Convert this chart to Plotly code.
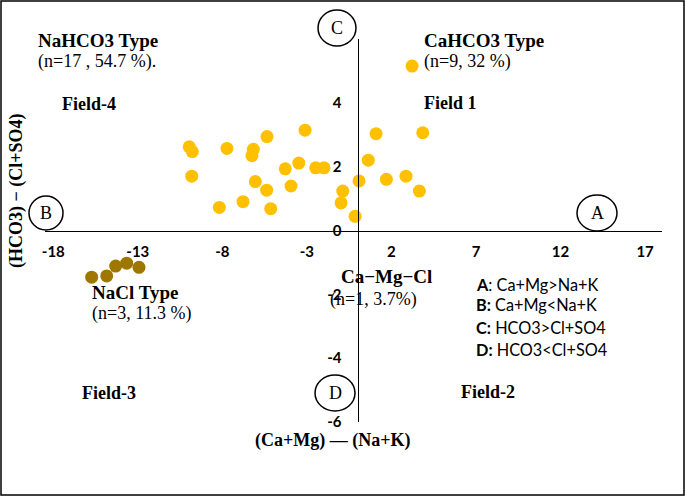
import plotly.graph_objects as go

# ---------------- data ----------------
yellow_x = [-9.96, -9.78, -9.81, -7.73, -6.17, -6.25, -5.36, -3.11, -8.18, -6.78,
            -6.05, -5.38, -5.14, -4.28, -3.48, -3.94, -2.48, -1.99, -0.88, -0.98,
            -0.15, 0.08, 0.63, 1.09, 3.85, 1.70, 2.86, 3.65, 3.22]
yellow_y = [2.63, 2.48, 1.71, 2.58, 2.55, 2.35, 2.95, 3.15, 0.73, 0.91,
            1.54, 1.27, 0.69, 1.94, 2.12, 1.40, 1.97, 1.97, 1.24, 0.87,
            0.45, 1.56, 2.21, 3.04, 3.07, 1.61, 1.71, 1.24, 5.16]
brown_x = [-15.73, -14.84, -14.31, -13.66, -12.93]
brown_y = [-1.46, -1.42, -1.11, -1.02, -1.15]

x_ticks = [-18, -13, -8, -3, 2, 7, 12, 17]
y_ticks = [-6, -4, -2, 0, 2, 4]
x_range = [-18.49, 18.0]
y_range = [-6.0, 6.01]

W, H = 685, 496
L, R, T, B = 45, 662, 39, 422   # plot area in pixels


def px(x, y):
    """figure pixel -> paper coordinates"""
    return (x - L) / (R - L), (B - y) / (B - T)


fig = go.Figure()
fig.add_trace(go.Scatter(x=yellow_x, y=yellow_y, mode="markers",
                         marker=dict(size=13, color="#FFC000", line=dict(width=0)),
                         showlegend=False))
fig.add_trace(go.Scatter(x=brown_x, y=brown_y, mode="markers",
                         marker=dict(size=13, color="#9E7700", line=dict(width=0)),
                         showlegend=False))

serif = "Liberation Serif"
sans = "Lato"
ann = []


def text(x, y, s, size=18, bold=False, anchor="left", family=serif, angle=0):
    ax, ay = px(x, y)
    ann.append(dict(x=ax, y=ay, xref="paper", yref="paper", text=s, showarrow=False,
                    xanchor=anchor, yanchor="middle", textangle=angle,
                    font=dict(family=family, size=size, color="black",
                              weight="bold" if bold else "normal")))


text(36, 40, "NaHCO3 Type", 19, True)
text(36, 62, "(n=17 , 54.7 %).", 18)
text(60, 104, "Field-4", 18, True)
text(422, 40, "CaHCO3 Type", 19, True)
text(422, 62, "(n=9, 32 %)", 18)
text(422, 103, "Field 1", 18, True)
text(90, 292, "NaCl Type", 19, True)
text(90, 313, "(n=3, 11.3 %)", 18)
text(80, 393, "Field-3", 18, True)
text(459, 392, "Field-2", 18, True)
text(339, 276, "Ca\u2212Mg\u2212Cl", 19, True)
text(419, 299, "(n=1, 3.7%)", 18, anchor="right")
text(474, 284, "<b>A</b>: Ca+Mg>Na+K", 16.3, family=sans)
text(474, 305, "<b>B:</b> Ca+Mg<Na+K", 16.3, family=sans)
text(474, 327, "<b>C:</b> HCO3>Cl+SO4", 16.3, family=sans)
text(474, 349, "<b>D:</b> HCO3<Cl+SO4", 16.3, family=sans)
text(332, 441, "(Ca+Mg) \u2014 (Na+K)", 18, True, anchor="center")
text(16, 191, "(HCO3) \u2212 (Cl+SO4)", 18, True, anchor="center", angle=-90)

circles = [("C", 337, 28, 19, 18), ("B", 46, 213, 17, 17),
           ("A", 597, 213, 20, 18), ("D", 335, 393, 20, 18)]
shapes = []
for lab, cx, cy, rx, ry in circles:
    x0, y0 = px(cx - rx, cy + ry)
    x1, y1 = px(cx + rx, cy - ry)
    shapes.append(dict(type="circle", xref="paper", yref="paper", x0=x0, y0=y0,
                       x1=x1, y1=y1, line=dict(color="black", width=1.5),
                       fillcolor="white", layer="above"))
    text(cx, cy, lab, 18, anchor="center")

# outer frame
fx0, fy0 = px(1, 495)
fx1, fy1 = px(684, 1)
shapes.append(dict(type="rect", xref="paper", yref="paper", x0=fx0, y0=fy0, x1=fx1, y1=fy1,
                   line=dict(color="black", width=1.5)))

xpos = (0 - y_range[0]) / (y_range[1] - y_range[0])
ypos = (0 - x_range[0]) / (x_range[1] - x_range[0])

tickfont = dict(family=sans, size=15, color="black", weight="bold")
fig.update_layout(
    width=W, height=H,
    margin=dict(l=L, r=W - R, t=T, b=H - B, pad=0),
    plot_bgcolor="white", paper_bgcolor="white",
    xaxis=dict(range=x_range, tickvals=x_ticks, ticktext=[str(v) for v in x_ticks],
               showgrid=False, zeroline=False, showline=True, linecolor="black",
               linewidth=1.3, anchor="free", position=xpos, ticks="outside",
               ticklen=7, tickcolor="rgba(0,0,0,0)", tickfont=tickfont),
    yaxis=dict(range=y_range, tickvals=y_ticks, ticktext=[str(v) for v in y_ticks],
               showgrid=False, zeroline=False, showline=True, linecolor="black",
               linewidth=1.3, anchor="free", position=ypos, ticks="outside",
               ticklen=13, tickcolor="rgba(0,0,0,0)", tickfont=tickfont),
    annotations=ann, shapes=shapes, showlegend=False,
)

fig.write_html("out.html", config={"displayModeBar": False},
               post_script="document.body.style.margin='0px';document.body.style.overflow='hidden';")
